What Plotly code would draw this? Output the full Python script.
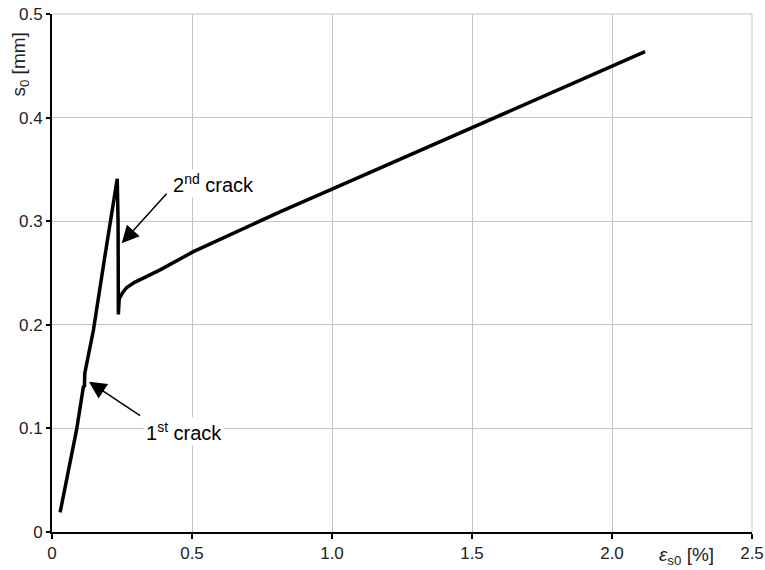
import plotly.graph_objects as go

# strain eps_s0 [%] and slip s0 [mm]
strain = [0.029, 0.058, 0.088, 0.112, 0.116, 0.117, 0.148, 0.190, 0.233,
          0.236, 0.237, 0.240, 0.252, 0.267, 0.295, 0.326, 0.386, 0.505,
          0.814, 1.0, 1.5, 2.118]
slip = [0.019, 0.057, 0.099, 0.140, 0.141, 0.153, 0.195, 0.268, 0.341,
        0.300, 0.210, 0.225, 0.231, 0.236, 0.241, 0.245, 0.253, 0.2706,
        0.309, 0.331, 0.390, 0.4636]

x_ticks = [0, 0.5, 1.0, 1.5, 2.0, 2.5]
x_labels = ["0", "0.5", "1.0", "1.5", "2.0", "2.5"]
y_ticks = [0, 0.1, 0.2, 0.3, 0.4, 0.5]
y_labels = ["0", "0.1", "0.2", "0.3", "0.4", "0.5"]

FONT = "Liberation Sans, Arial, sans-serif"

fig = go.Figure()
fig.add_trace(go.Scatter(x=strain, y=slip, mode="lines",
                         line=dict(color="black", width=3.5),
                         showlegend=False, hoverinfo="skip"))

grid = "#c4c4c4"
fig.update_layout(
    width=765, height=570,
    margin=dict(l=52, r=13, t=14, b=38, autoexpand=False),
    paper_bgcolor="white", plot_bgcolor="white",
    font=dict(family=FONT, size=17, color="#222"),
    xaxis=dict(range=[0, 2.5], tickvals=x_ticks, ticktext=x_labels,
               showgrid=True, gridcolor=grid, gridwidth=1,
               showline=True, linecolor="black", linewidth=2,
               ticks="outside", ticklen=5, tickcolor="black", tickwidth=1.5,
               zeroline=False, tickfont=dict(size=17), automargin=False,
               ticklabeloverflow="allow"),
    yaxis=dict(range=[0, 0.5], tickvals=y_ticks, ticktext=y_labels,
               showgrid=True, gridcolor=grid, gridwidth=1,
               showline=True, linecolor="black", linewidth=2,
               ticks="outside", ticklen=4, tickcolor="black", tickwidth=1.5,
               zeroline=False, tickfont=dict(size=17), automargin=False,
               ticklabeloverflow="allow"),
    shapes=[
        dict(type="line", xref="paper", yref="paper", x0=0, x1=1, y0=1, y1=1,
             line=dict(color=grid, width=1)),
        dict(type="line", xref="paper", yref="paper", x0=1, x1=1, y0=0, y1=1,
             line=dict(color=grid, width=1)),
    ],
)

annots = [
    # axis titles
    dict(text="s<sub>0</sub> [mm]", xref="paper", yref="paper",
         x=-0.046, y=0.902, textangle=-90, showarrow=False,
         xanchor="center", yanchor="middle",
         font=dict(size=19, color="#222")),
    dict(text="<i>ε</i><sub>s0</sub> [%]", xref="paper", yref="paper",
         x=0.906, y=-0.046, showarrow=False,
         xanchor="center", yanchor="middle",
         font=dict(size=19, color="#222")),
    # arrows
    dict(x=0.249, y=0.2787, ax=0.414, ay=0.328, xref="x", yref="y",
         axref="x", ayref="y", text="", showarrow=True, arrowhead=2,
         arrowsize=2.3, arrowwidth=1.5, arrowcolor="black"),
    dict(x=0.132, y=0.1451, ax=0.320, ay=0.1113, xref="x", yref="y",
         axref="x", ayref="y", text="", showarrow=True, arrowhead=2,
         arrowsize=2.3, arrowwidth=1.5, arrowcolor="black"),
    # labels
    dict(text="2<sup>nd</sup> crack", x=0.424, y=0.336, xref="x", yref="y",
         xanchor="left", yanchor="middle", showarrow=False,
         bgcolor="white", font=dict(size=20, color="black")),
    dict(text="1<sup>st</sup> crack", x=0.330, y=0.097, xref="x", yref="y",
         xanchor="left", yanchor="middle", showarrow=False,
         bgcolor="white", font=dict(size=20, color="black")),
]
fig.update_layout(annotations=annots)

fig.write_html("out.html", config={"displayModeBar": False},
               post_script="document.body.style.margin='0';"
                           "document.body.style.padding='0';")
